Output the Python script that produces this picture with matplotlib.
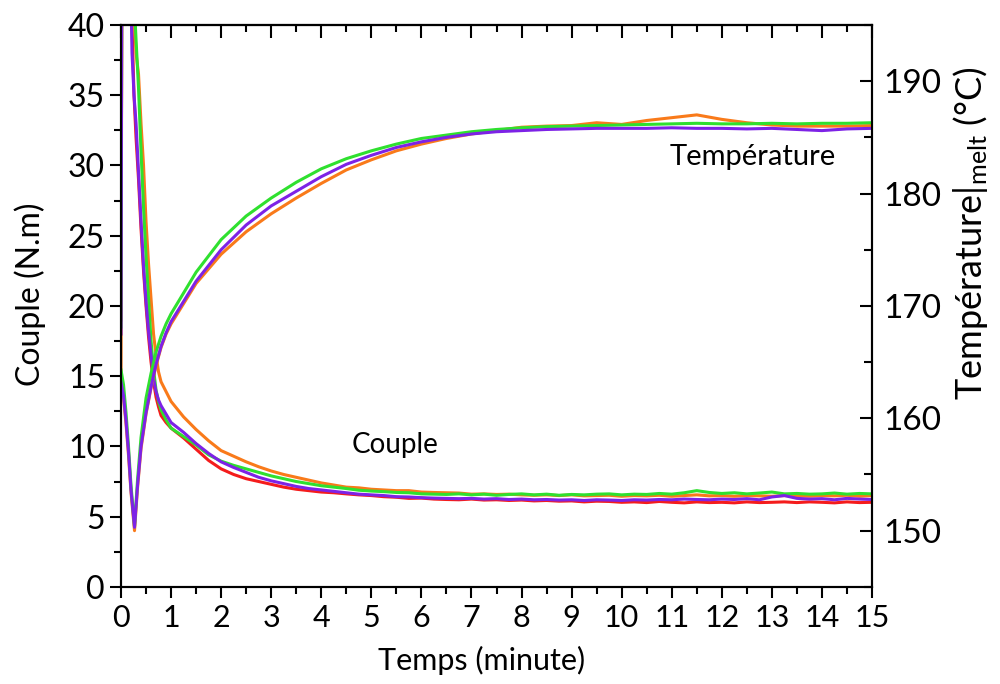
import matplotlib
matplotlib.use("Agg")
import matplotlib.pyplot as plt
from matplotlib.ticker import MultipleLocator
import numpy as np

plt.rcParams['font.family'] = ['Lato', 'DejaVu Sans']
plt.rcParams['mathtext.fontset'] = 'custom'
plt.rcParams['mathtext.rm'] = 'Lato'
plt.rcParams['mathtext.it'] = 'Lato'

# couple (N.m) : early part read point by point, then every 0.25 min
t_couple = np.concatenate([[0, 0.02, 0.1, 0.18, 0.22, 0.26, 0.3, 0.35, 0.4, 0.45, 0.5,
                            0.55, 0.6, 0.65, 0.7, 0.75, 0.8, 0.9],
                           np.arange(1.0, 15.01, 0.25)])

couple_red = [19.0, 50, 48, 45, 40, 35, 32, 29, 25.5, 22.5, 20.0,
              17.8, 16.0, 14.6, 13.5, 12.8, 12.2, 11.7,
              11.3, 10.6, 9.8, 9.0, 8.4, 8.0, 7.7, 7.5, 7.3, 7.1, 6.95, 6.85,
              6.75, 6.7, 6.62, 6.55, 6.5, 6.42, 6.38, 6.3, 6.32, 6.25, 6.22, 6.2,
              6.25, 6.18, 6.2, 6.15, 6.18, 6.12, 6.15, 6.1, 6.12, 6.05, 6.1, 6.08,
              6.02, 6.05, 6.0, 6.08, 6.02, 5.98, 6.05, 6.0, 6.02, 5.98, 6.05, 6.0,
              6.02, 6.05, 6.0, 6.05, 6.02, 5.98, 6.05, 6.0, 6.02]
couple_orange = [14.0, 50, 48, 47, 45, 41, 38, 36.5, 33.0, 30.0, 26.0,
                 23.0, 20.5, 18.0, 16.5, 15.3, 14.6, 13.9,
                 13.2, 12.1, 11.2, 10.4, 9.7, 9.3, 8.9, 8.55, 8.25, 8.0, 7.8, 7.6,
                 7.4, 7.25, 7.1, 7.05, 6.95, 6.9, 6.85, 6.85, 6.75, 6.72, 6.7, 6.68,
                 6.6, 6.62, 6.58, 6.6, 6.55, 6.52, 6.55, 6.5, 6.55, 6.48, 6.5, 6.52,
                 6.45, 6.5, 6.48, 6.52, 6.45, 6.5, 6.55, 6.48, 6.5, 6.45, 6.5, 6.48,
                 6.45, 6.5, 6.48, 6.45, 6.5, 6.48, 6.52, 6.45, 6.5]
couple_green = [18.5, 50, 48, 47, 46, 42, 39, 35.5, 31.0, 27.0, 23.5,
                20.5, 17.5, 15.5, 14.0, 13.2, 12.6, 11.9,
                11.3, 10.7, 10.1, 9.4, 8.95, 8.65, 8.4, 8.15, 7.9, 7.7, 7.5, 7.35,
                7.2, 7.1, 7.0, 6.88, 6.82, 6.78, 6.72, 6.7, 6.62, 6.6, 6.58, 6.62,
                6.55, 6.6, 6.52, 6.58, 6.62, 6.55, 6.6, 6.52, 6.58, 6.55, 6.6, 6.62,
                6.55, 6.6, 6.58, 6.65, 6.6, 6.7, 6.85, 6.72, 6.65, 6.7, 6.62, 6.68,
                6.75, 6.62, 6.65, 6.6, 6.62, 6.68, 6.6, 6.65, 6.62]
couple_purple = [18.0, 50, 48, 46, 38.0, 35.0, 33.0, 29.5, 26.0, 22.8, 20.3,
                 18.2, 16.5, 14.8, 13.9, 13.3, 12.9, 12.3,
                 11.7, 11.0, 10.2, 9.5, 8.9, 8.5, 8.15, 7.8, 7.55, 7.35, 7.15, 7.0,
                 6.9, 6.8, 6.7, 6.6, 6.55, 6.5, 6.42, 6.4, 6.35, 6.32, 6.3, 6.28,
                 6.3, 6.25, 6.28, 6.22, 6.25, 6.2, 6.22, 6.18, 6.2, 6.15, 6.2, 6.18,
                 6.15, 6.2, 6.18, 6.22, 6.2, 6.25, 6.22, 6.2, 6.25, 6.22, 6.28, 6.2,
                 6.4, 6.5, 6.3, 6.25, 6.28, 6.2, 6.3, 6.25, 6.22]

# temperature melt (°C)
t_temp = np.concatenate([[0, 0.05, 0.1, 0.15, 0.2, 0.27, 0.33, 0.4, 0.5, 0.6, 0.7, 0.8, 0.9],
                         np.arange(1.0, 15.01, 0.5)])

temp_orange = [162.8, 161.8, 159.5, 156.7, 153.4, 150.0, 153.8, 157.3, 160.4, 162.7, 164.7, 166.3, 167.5,
               168.4, 172.0, 174.6, 176.6, 178.2, 179.6, 180.9, 182.1, 183.0, 183.8, 184.4, 184.9,
               185.3, 185.6, 185.9, 186.0, 186.05, 186.3, 186.15, 186.5, 186.75, 187.0, 186.6, 186.3,
               186.1, 186.0, 186.0, 186.0, 186.05]
temp_green = [164.3, 163.0, 160.5, 157.5, 154.0, 150.4, 154.5, 158.3, 161.8, 164.0, 165.9, 167.3, 168.4,
              169.3, 173.0, 175.9, 178.0, 179.6, 181.0, 182.2, 183.1, 183.8, 184.4, 184.9, 185.2,
              185.5, 185.7, 185.85, 185.95, 186.0, 186.05, 186.1, 186.15, 186.2, 186.25, 186.2, 186.2,
              186.25, 186.2, 186.25, 186.25, 186.3]
temp_purple = [163.2, 162.0, 159.8, 157.0, 153.6, 150.3, 154.0, 157.5, 160.5, 162.8, 164.8, 166.4, 167.6,
               168.6, 172.2, 175.0, 177.2, 178.9, 180.2, 181.5, 182.6, 183.4, 184.1, 184.6, 185.0,
               185.3, 185.5, 185.6, 185.7, 185.75, 185.8, 185.8, 185.8, 185.85, 185.8, 185.8, 185.75,
               185.8, 185.7, 185.6, 185.75, 185.8]

c_red = '#f41c1c'
c_orange = '#f97a1a'
c_green = '#2fe02f'
c_purple = '#7d22e6'

fig = plt.figure(figsize=(10, 6.84), dpi=100)
ax = fig.add_subplot(111)
fig.subplots_adjust(left=0.121, right=0.872, bottom=0.142, top=0.9635)
ax2 = ax.twinx()

lw = 2.2
ax.plot(t_couple, couple_red, color=c_red, lw=lw)
ax.plot(t_couple, couple_orange, color=c_orange, lw=lw)
ax.plot(t_couple, couple_green, color=c_green, lw=lw)
ax.plot(t_couple, couple_purple, color=c_purple, lw=lw)

ax2.plot(t_temp, temp_orange, color=c_orange, lw=lw)
ax2.plot(t_temp, temp_green, color=c_green, lw=lw)
ax2.plot(t_temp, temp_purple, color=c_purple, lw=lw)

ax.set_xlim(0, 15)
ax.set_ylim(0, 40)
ax2.set_ylim(145, 195)

ax.xaxis.set_major_locator(MultipleLocator(1))
ax.xaxis.set_minor_locator(MultipleLocator(0.5))
ax.yaxis.set_major_locator(MultipleLocator(5))
ax.yaxis.set_minor_locator(MultipleLocator(2.5))
ax2.yaxis.set_major_locator(MultipleLocator(10))
ax2.yaxis.set_minor_locator(MultipleLocator(5))

for a in (ax, ax2):
    for s in a.spines.values():
        s.set_linewidth(1.5)

ax.tick_params(axis='x', which='both', direction='out', top=False, width=1.5, labelsize=22, pad=4)
ax.tick_params(axis='x', which='major', length=8)
ax.tick_params(axis='x', which='minor', length=5)
ax.tick_params(axis='y', which='both', direction='out', right=False, width=1.5, labelsize=23)
ax.tick_params(axis='y', which='major', length=8)
ax.tick_params(axis='y', which='minor', length=5)
ax2.tick_params(axis='y', which='both', direction='in', width=1.5, labelsize=24, pad=8)
ax2.tick_params(axis='y', which='major', length=9)
ax2.tick_params(axis='y', which='minor', length=6)

# inward ticks on the top spine
sec = ax.secondary_xaxis('top')
sec.xaxis.set_major_locator(MultipleLocator(1))
sec.xaxis.set_minor_locator(MultipleLocator(0.5))
sec.tick_params(which='both', direction='in', width=1.5, labeltop=False)
sec.tick_params(which='major', length=9)
sec.tick_params(which='minor', length=5)
sec.spines['top'].set_linewidth(1.5)

ax.set_xlabel('Temps (minute)', fontsize=22)
ax.xaxis.set_label_coords(0.48, -0.105)
ax.set_ylabel('Couple (N.m)', fontsize=23)
ax.yaxis.set_label_coords(-0.1, 0.52)
ax2.set_ylabel('Température$|_{\\mathrm{melt}}$ (°C)', fontsize=26)
ax2.yaxis.set_label_coords(1.105, 0.63)

ax.text(5.48, 10.1, 'Couple', fontsize=20, ha='center', va='center')
ax2.text(12.62, 183.25, 'Température', fontsize=21, ha='center', va='center')

fig.savefig('out.png', dpi=100)
